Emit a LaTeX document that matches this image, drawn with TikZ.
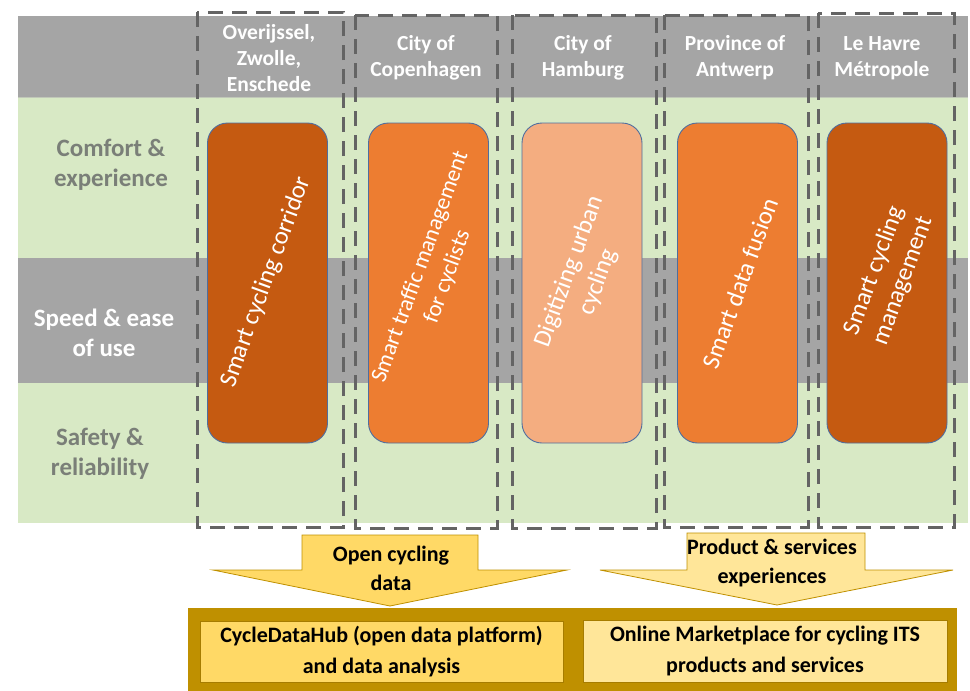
\documentclass[tikz,border=0pt]{standalone}
\usepackage{fontspec}
\setmainfont{Carlito}
\definecolor{hdrgray}{HTML}{A5A5A5}
\definecolor{rowgreen}{HTML}{D8E9C5}
\definecolor{dashgray}{HTML}{646464}
\definecolor{labgray}{HTML}{7A7F78}
\definecolor{odark}{HTML}{C55A11}
\definecolor{omid}{HTML}{ED7D31}
\definecolor{olight}{HTML}{F4AD80}
\definecolor{oborder}{HTML}{4F6E9F}
\definecolor{gold}{HTML}{BF9000}
\definecolor{ylw}{HTML}{FFD966}
\definecolor{ylwlight}{HTML}{FFE699}
\definecolor{ylwborder}{HTML}{A67C00}
\tikzset{
  hdrtext/.style={text=white, font=\bfseries\fontsize{21.5}{26}\selectfont, align=center},
  rowlab/.style={font=\bfseries\fontsize{25}{30}\selectfont, align=center},
  obox/.style={draw=oborder, line width=0.9pt, rounded corners=20pt, minimum width=120pt, minimum height=320pt, inner sep=0pt},
  otext/.style={rotate=70, text=white, font=\fontsize{25}{30.5}\selectfont, align=center, inner sep=0pt},
  otextsmall/.style={otext, font=\fontsize{23}{29}\selectfont},
  cbox/.style={draw=dashgray, line width=3pt, dash pattern=on 15pt off 9pt},
  blockarrow/.style={draw=gold, line width=0.8pt},
  arrtext/.style={font=\bfseries\fontsize{22}{29}\selectfont, align=center},
  bottomtext/.style={font=\bfseries\fontsize{22}{31}\selectfont, align=center},
}
\begin{document}
\begin{tikzpicture}[x=1pt,y=-1pt]
\useasboundingbox (0,0) rectangle (970,691);
% background bands
\fill[hdrgray] (18,16) rectangle (968,97);
\fill[rowgreen] (18,97) rectangle (968,258);
\fill[hdrgray] (18,258) rectangle (968,383);
\fill[rowgreen] (18,383) rectangle (968,523);
\draw[color=rowgreen!70!black!60, line width=1pt] (18,97) -- (968,97);
% row labels
\node[rowlab, text=labgray] (r1) at (111,165) {Comfort \&\\experience};
\node[rowlab, text=white] (r2) at (104,333) {Speed \& ease\\of use};
\node[rowlab, text=labgray] (r3) at (100,454) {Safety \&\\reliability};
% header texts
\node[hdrtext] (h1) at (269,58) {Overijssel,\\Zwolle,\\Enschede};
\node[hdrtext] (h2) at (426,58) {City of\\Copenhagen};
\node[hdrtext] (h3) at (583,58) {City of\\Hamburg};
\node[hdrtext] (h4) at (735,58) {Province of\\Antwerp};
\node[hdrtext] (h5) at (882,58) {Le Havre\\Métropole};
% orange boxes
\node[obox, fill=odark] (o1) at (267.5,283) {};
\node[otext] (t1) at (266,282) {Smart cycling corridor};
\node[obox, fill=omid] (o2) at (428.5,283) {};
\node[otextsmall] (t2) at (434,272) {Smart traffic management\\for cyclists};
\node[obox, fill=olight] (o3) at (582,283) {};
\node[otext] (t3) at (584,277) {Digitizing urban\\cycling};
\node[obox, fill=omid] (o4) at (737.5,283) {};
\node[otext] (t4) at (740,283) {Smart data fusion};
\node[obox, fill=odark] (o5) at (887,283) {};
\node[otext] (t5) at (889,276) {Smart cycling\\management};
% dashed city boxes
\draw[cbox] (197,12) rectangle (343,527);
\draw[cbox] (355,15) rectangle (497,528);
\draw[cbox] (512,15) rectangle (656,528);
\draw[cbox] (664,15) rectangle (808,527);
\draw[cbox] (818,13) rectangle (954,527);
% bottom platform
\fill[gold] (188,608) rectangle (957,695);
\node[draw=ylwborder, line width=1pt, fill=ylw, minimum width=363pt, minimum height=61pt, inner sep=0pt, bottomtext] (b1) at (381.5,651.5) {CycleDataHub (open data platform)\\and data analysis};
\node[draw=ylwborder, line width=1pt, fill=ylwlight, minimum width=364pt, minimum height=62pt, inner sep=0pt, bottomtext] (b2) at (765,651) {Online Marketplace for cycling ITS\\products and services};
% block arrows
\draw[blockarrow, fill=ylw] (302,535) -- (478,535) -- (478,570) -- (567,570) -- (390,606) -- (213,570) -- (302,570) -- cycle;
\node[arrtext] (a1) at (391,568) {Open cycling\\data};
\draw[blockarrow, fill=ylwlight] (687,533) -- (865,533) -- (865,570) -- (953,570) -- (777,605) -- (600,570) -- (687,570) -- cycle;
\node[arrtext] (a2) at (772,563) {Product \& services\\experiences};
\end{tikzpicture}
\end{document}
